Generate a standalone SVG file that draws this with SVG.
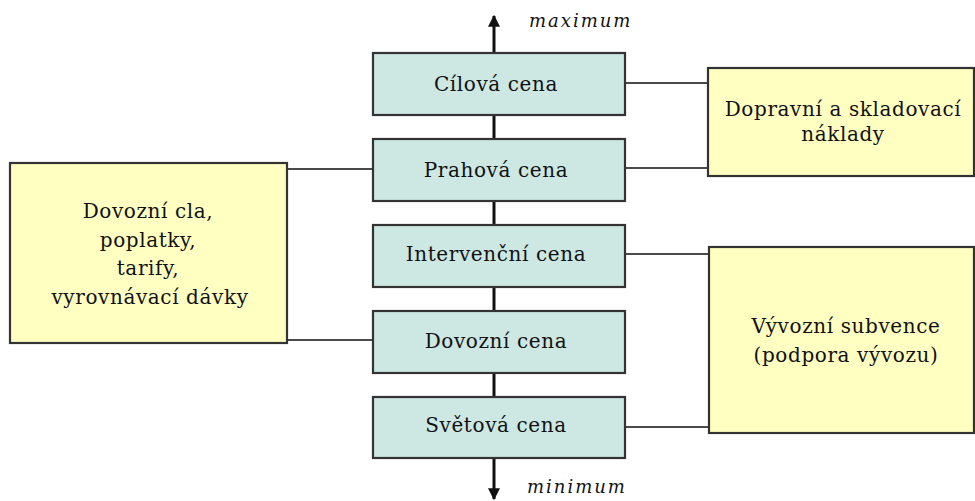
<svg xmlns="http://www.w3.org/2000/svg" width="975" height="501" viewBox="0 0 975 501">
<style>
.price rect{fill:#CDE7E3;stroke:#333333;stroke-width:2.2}
.note rect{fill:#FFFFC2;stroke:#333333;stroke-width:2.2}
text{font-family:"DejaVu Serif",serif;font-size:20px;fill:#111111;text-anchor:middle;letter-spacing:0.6px}
.axis{font-style:italic;font-size:18px;letter-spacing:2px;text-anchor:start}
.spine{stroke:#111;stroke-width:3;fill:none}
.link{stroke:#4a4a4a;stroke-width:2;fill:none}
</style>
<defs>
<marker id="ah" viewBox="0 0 10 10" refX="9" refY="5" markerWidth="4" markerHeight="4" orient="auto-start-reverse">
<path d="M0,0 L10,5 L0,10 Z" fill="#111"/>
</marker>
</defs>
<rect x="0" y="0" width="975" height="501" fill="#ffffff"/>
<g id="connectors">
<line class="spine" x1="494" y1="53" x2="494" y2="16" marker-end="url(#ah)"/>
<line class="spine" x1="494" y1="115" x2="494" y2="139"/>
<line class="spine" x1="494" y1="201" x2="494" y2="225"/>
<line class="spine" x1="494" y1="287" x2="494" y2="311"/>
<line class="spine" x1="494" y1="373" x2="494" y2="397"/>
<line class="spine" x1="494" y1="458" x2="494" y2="499" marker-end="url(#ah)"/>
<line class="link" x1="625" y1="83" x2="708" y2="83"/>
<line class="link" x1="625" y1="168" x2="708" y2="168"/>
<line class="link" x1="625" y1="254" x2="708" y2="254"/>
<line class="link" x1="625" y1="427" x2="708" y2="427"/>
<line class="link" x1="287" y1="169" x2="373" y2="169"/>
<line class="link" x1="287" y1="340" x2="373" y2="340"/>
</g>
<text class="axis" x="529" y="27">maximum</text>
<text class="axis" x="527" y="493">minimum</text>
<g id="cilova" class="price">
<rect x="373" y="53" width="252" height="62"/>
<text x="496" y="91">Cílová cena</text>
</g>
<g id="prahova" class="price">
<rect x="373" y="139" width="252" height="62"/>
<text x="496" y="177">Prahová cena</text>
</g>
<g id="intervencni" class="price">
<rect x="373" y="225" width="252" height="62"/>
<text x="496" y="261">Intervenční cena</text>
</g>
<g id="dovozni" class="price">
<rect x="373" y="311" width="252" height="62"/>
<text x="496" y="348">Dovozní cena</text>
</g>
<g id="svetova" class="price">
<rect x="373" y="397" width="252" height="61"/>
<text x="496" y="432">Světová cena</text>
</g>
<g id="cla" class="note">
<rect x="10" y="163" width="277" height="180"/>
<text x="148" y="218">Dovozní cla,</text>
<text x="148" y="247">poplatky,</text>
<text x="148" y="275">tarify,</text>
<text x="150" y="304">vyrovnávací dávky</text>
</g>
<g id="naklady" class="note">
<rect x="708" y="68" width="266" height="108"/>
<text x="843" y="116">Dopravní a skladovací</text>
<text x="843" y="141">náklady</text>
</g>
<g id="subvence" class="note">
<rect x="709" y="247" width="265" height="186"/>
<text x="846" y="333">Vývozní subvence</text>
<text x="846" y="362">(podpora vývozu)</text>
</g>
</svg>
